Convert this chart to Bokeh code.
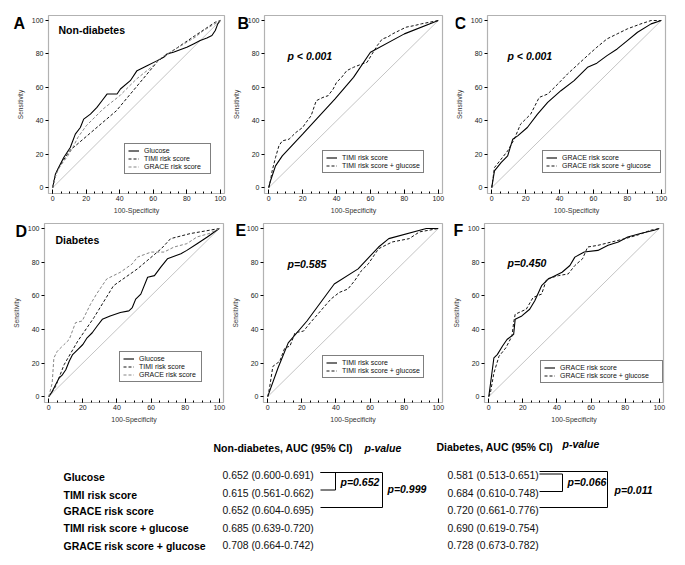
from bokeh.plotting import figure
from bokeh.models import Range1d, FixedTicker, Label, Legend, LegendItem, BoxAnnotation
from bokeh.layouts import column, row
from bokeh.embed import file_html
from bokeh.resources import INLINE
from bokeh.core.properties import value

FONT = "Liberation Sans"

# ---------------- data ----------------
major_ticks = [0, 20, 40, 60, 80, 100]
minor_ticks = [0, 5, 10, 15, 20, 25, 30, 35, 40, 45, 50, 55, 60, 65, 70, 75, 80, 85, 90, 95, 100]
chance_x = [0, 100]
chance_y = [0, 100]

# Panel A: Non-diabetes
A_glu_x = [0, 1.6, 4, 6.6, 10.5, 13.5, 16.5, 18.5, 22.5, 26.4, 29.4, 32.4, 38.4, 40.4, 46.3, 50.3, 56.3, 62.4, 66.2, 68.2, 72, 80, 84, 88, 92, 95, 97, 98.5, 100]
A_glu_y = [0, 8, 13, 18, 24, 32, 36, 41, 44, 48, 52, 56, 56, 59, 64, 70, 73, 76, 78, 80, 81, 84, 86, 88, 89.5, 91, 94, 98, 100]
A_timi_x = [0, 1, 3, 10, 38, 63, 85, 97, 100]
A_timi_y = [0, 5, 11, 22, 46, 76, 91, 99, 100]
A_grace_x = [0, 1, 2, 4, 6, 9, 12, 15, 20, 25, 30, 35, 40, 45, 50, 55, 60, 65, 70, 75, 80, 85, 90, 95, 100]
A_grace_y = [0, 4, 8, 12, 15, 19, 24, 30, 37, 42, 47, 51, 55, 60, 65, 69, 73, 78, 81, 84, 87, 90, 94, 97, 100]

# Panel B
B_timi_x = [0, 1, 4, 8, 20, 39, 50, 60, 80, 100]
B_timi_y = [0, 4, 13, 19, 32, 53, 66, 81, 92, 100]
B_tg_x = [0, 1, 2, 4, 6, 8, 12, 14, 16, 20, 22, 25, 28, 32, 35, 38, 40, 43, 46, 50, 55, 58, 61, 64, 67, 70, 73, 77, 81, 86, 90, 95, 100]
B_tg_y = [0, 4, 10, 18, 25, 28, 29, 31, 33, 36, 39, 43, 52, 54, 55, 59, 63, 66, 70, 72, 74, 75, 80, 85, 89, 90, 92, 94, 96, 97, 98, 99, 100]

# Panel C
C_g_x = [0, 1.6, 5.5, 9.4, 12.4, 15.3, 21, 27, 33, 40.8, 48.6, 56.5, 62, 68, 74, 80, 86, 94, 100]
C_g_y = [0, 10, 15, 19, 29, 31, 36, 44, 51, 58, 64, 72, 74.5, 79, 83, 88, 93, 98, 100]
C_gg_x = [0, 1.6, 5.5, 9.4, 13.3, 17, 23, 28, 33, 39, 44.7, 50.6, 56.5, 62, 68, 74, 80, 88, 94, 100]
C_gg_y = [0, 12, 17, 22, 29, 38, 44, 54, 56, 62, 68, 73.5, 79, 84, 89, 92, 95, 98, 100, 100]

# Panel D: Diabetes
D_glu_x = [0, 2, 4, 6, 8, 10, 12, 14, 17, 20, 22.5, 25.5, 28.4, 31.4, 36, 42, 47, 49, 51, 54, 58, 62, 65.7, 69.6, 77.5, 81, 87, 93, 100]
D_glu_y = [0, 3, 7, 11, 13, 16, 21, 25, 28, 31, 35, 38, 42, 46, 48, 50, 51, 53, 58, 61, 71, 72, 77, 82, 85, 87, 91, 95, 100]
D_timi_x = [0, 4, 9, 17, 26.5, 38, 52, 66, 71.5, 83, 100]
D_timi_y = [0, 6, 19, 33, 47, 66, 76, 88, 94, 97, 100]
D_grace_x = [0, 2, 3, 5, 9, 12, 15.7, 19.6, 24.5, 28, 34, 42, 49, 52, 60, 67.6, 73.5, 81, 87, 94, 100]
D_grace_y = [0, 8, 23, 27, 31, 34, 44, 45, 55, 61, 70, 74, 79, 83, 86, 86, 89, 91, 95, 97, 100]

# Panel E
E_timi_x = [0, 1, 6, 12, 23, 39, 53, 65, 71, 93, 100]
E_timi_y = [0, 3, 17, 32, 45, 67, 76, 89, 94, 100, 100]
E_tg_x = [0, 1, 3, 7, 10, 13, 16, 21, 25, 31, 37, 42, 47, 51, 55, 59, 65, 73, 83, 89, 100]
E_tg_y = [0, 5, 18, 21, 29, 30, 38, 39, 44, 51, 58, 62, 64, 69, 75, 79, 88, 92, 94, 98, 100]

# Panel F
F_g_x = [0, 1, 3, 5, 8, 10.7, 14.6, 15.5, 19.4, 24, 27, 31, 35, 43, 47.6, 50.5, 56, 64, 70, 76, 81.5, 89, 97, 100]
F_g_y = [0, 7.5, 23, 25, 30, 34, 37, 46, 48, 52, 57, 66, 70, 74, 78, 83, 86, 87, 90, 92, 95, 97, 99, 100]
F_gg_x = [0, 1, 3, 6, 10, 13.6, 14.6, 15.5, 22, 26, 31, 34, 41, 46.6, 50.5, 55, 58, 64, 72, 80, 87, 95, 100]
F_gg_y = [0, 2.5, 14, 24, 29, 36, 44, 49, 52, 59, 61, 70, 72, 73, 78, 82, 89, 90, 92, 94, 96, 99, 100]

# Table
row_labels = ["Glucose", "TIMI risk score", "GRACE risk score", "TIMI risk score + glucose", "GRACE  risk score + glucose"]
auc_nd = [0.652, 0.615, 0.652, 0.685, 0.708]
lo_nd = [0.600, 0.561, 0.604, 0.639, 0.664]
hi_nd = [0.691, 0.662, 0.695, 0.720, 0.742]
auc_d = [0.581, 0.684, 0.720, 0.690, 0.728]
lo_d = [0.513, 0.610, 0.661, 0.619, 0.673]
hi_d = [0.651, 0.748, 0.776, 0.754, 0.782]
p_nd_pair, p_nd_all = "0.652", "0.999"
p_d_pair, p_d_all = "0.066", "0.011"

# ---------------- styles / layout ----------------
BOX_X = (-2.5, 102.5)   # data extent of the drawn plot box
BOX_Y = (-3.5, 103.0)
STY = {
    "solid": dict(line_color="black", line_width=1.1),
    "dash": dict(line_color="#151515", line_width=1.0, line_dash="3 2"),
    "gray": dict(line_color="#858585", line_width=1.0, line_dash="3 2"),
}


def make_panel(fig_box, plot_box, letter, letter_pos, curves, legend_pos, legend_lw,
               note, note_pos, note_style):
    fx0, fy0, fx1, fy1 = fig_box
    bx0, by0, bx1, by1 = plot_box
    ppx = (bx1 - bx0) / (BOX_X[1] - BOX_X[0])
    ppy = (by1 - by0) / (BOX_Y[1] - BOX_Y[0])
    px2x = lambda px: BOX_X[0] + (px - bx0) / ppx
    py2y = lambda py: BOX_Y[1] - (py - by0) / ppy

    p = figure(width=fx1 - fx0, height=fy1 - fy0, output_backend="svg", toolbar_location=None,
               title=None, x_range=Range1d(px2x(fx0), px2x(fx1)),
               y_range=Range1d(py2y(fy1), py2y(fy0)), min_border=0)
    p.grid.visible = False
    p.outline_line_color = None
    p.background_fill_color = "white"
    p.border_fill_color = "white"

    xa = p.xaxis[0]
    ya = p.yaxis[0]
    xa.fixed_location = BOX_Y[0]
    ya.fixed_location = BOX_X[0]
    xa.bounds = BOX_X
    ya.bounds = BOX_Y
    xa.ticker = FixedTicker(ticks=major_ticks, minor_ticks=minor_ticks)
    ya.ticker = FixedTicker(ticks=major_ticks, minor_ticks=[])
    for a in (xa, ya):
        a.axis_line_color = None
        a.major_label_text_font = FONT
        a.major_label_text_font_size = "7px"
        a.major_label_text_color = "#222222"
        a.axis_label_text_font = FONT
        a.axis_label_text_font_style = "normal"
        a.axis_label_text_color = "#333333"
        a.major_tick_line_color = "black"
        a.minor_tick_line_color = "black"
        a.major_label_standoff = 2
    xa.major_tick_in = 4
    xa.major_tick_out = 0
    xa.minor_tick_in = 2
    xa.minor_tick_out = 0
    xa.axis_label = "100-Specificity"
    xa.axis_label_text_font_size = "7px"
    xa.axis_label_standoff = 3
    ya.major_tick_in = 0
    ya.major_tick_out = 3
    ya.minor_tick_in = 0
    ya.minor_tick_out = 0
    ya.axis_label = "Sensitivity"
    ya.axis_label_text_font_size = "6.5px"
    ya.axis_label_standoff = 5

    p.line(chance_x, chance_y, line_color="#bdbdbd", line_width=0.9)
    items = []
    for xs, ys, sty, lab in curves:
        r = p.line(xs, ys, **STY[sty])
        items.append(LegendItem(label=lab, renderers=[r]))
    leg = Legend(items=items, location=(legend_pos[0] - fx0, fy1 - legend_pos[1]),
                 label_text_font=FONT, label_text_font_size="7px", label_text_color="#111111",
                 glyph_width=11, glyph_height=7, label_height=7, label_width=legend_lw,
                 spacing=1, padding=3, margin=0, label_standoff=5,
                 border_line_color="black", border_line_width=1,
                 background_fill_color="white", background_fill_alpha=1.0)
    p.add_layout(leg)

    p.add_layout(BoxAnnotation(left=BOX_X[0], right=BOX_X[1], bottom=BOX_Y[0], top=BOX_Y[1],
                               fill_color=None, fill_alpha=0, line_color="black", line_width=1.2))

    p.add_layout(Label(x=px2x(letter_pos[0]), y=py2y(letter_pos[1]), text=letter,
                       text_font=FONT, text_font_size="16px", text_font_style="bold",
                       text_baseline="alphabetic", text_align="left", text_color="black"))
    p.add_layout(Label(x=px2x(note_pos[0]), y=py2y(note_pos[1]), text=note, text_font=FONT,
                       text_font_size="10.5px", text_font_style=note_style,
                       text_baseline="middle", text_align="left", text_color="black"))
    return p


pA = make_panel((0, 0, 232, 216), (48, 15, 224, 193), "A", (13, 23),
                [(A_glu_x, A_glu_y, "solid", "Glucose"),
                 (A_timi_x, A_timi_y, "dash", "TIMI risk score"),
                 (A_grace_x, A_grace_y, "gray", "GRACE risk score")],
                (124, 174), 63, "Non-diabetes", (58, 29), "bold")
pB = make_panel((232, 0, 455, 216), (264, 15, 442, 193), "B", (237, 23),
                [(B_timi_x, B_timi_y, "solid", "TIMI risk score"),
                 (B_tg_x, B_tg_y, "dash", "TIMI risk score + glucose")],
                (322, 173), 76, "p < 0.001", (287, 55), "bold italic")
pC = make_panel((455, 0, 677, 216), (487, 15, 665, 193), "C", (454, 23),
                [(C_g_x, C_g_y, "solid", "GRACE risk score"),
                 (C_gg_x, C_gg_y, "dash", "GRACE risk score + glucose")],
                (542, 173), 95, "p < 0.001", (507, 55), "bold italic")
pD = make_panel((0, 216, 231, 425), (44, 223, 223, 402), "D", (15, 231),
                [(D_glu_x, D_glu_y, "solid", "Glucose"),
                 (D_timi_x, D_timi_y, "dash", "TIMI risk score"),
                 (D_grace_x, D_grace_y, "gray", "GRACE risk score")],
                (119, 382), 59, "Diabetes", (55, 239), "bold")
pE = make_panel((231, 216, 452, 425), (263, 223, 442, 402), "E", (235, 230),
                [(E_timi_x, E_timi_y, "solid", "TIMI risk score"),
                 (E_tg_x, E_tg_y, "dash", "TIMI risk score + glucose")],
                (322, 378), 74, "p=0.585", (287, 263.5), "bold italic")
pF = make_panel((452, 216, 677, 425), (484, 223, 663, 402), "F", (453, 230),
                [(F_g_x, F_g_y, "solid", "GRACE risk score"),
                 (F_gg_x, F_gg_y, "dash", "GRACE risk score + glucose")],
                (540, 383), 99, "p=0.450", (507, 262.5), "bold italic")

# ---------------- table ----------------
t = figure(width=677, height=132, output_backend="svg", toolbar_location=None, title=None,
           x_range=Range1d(0, 677), y_range=Range1d(557, 425),
           x_axis_type=None, y_axis_type=None, min_border=0)
t.grid.visible = False
t.outline_line_color = None

row_y0, row_dy = 475.0, 17.5
rows_y = [row_y0 + i * row_dy for i in range(len(row_labels))]
lab_x, nd_x, d_x = 63, 222, 447

fmt = lambda a, l, h: f"{a:.3f} ({l:.3f}-{h:.3f})"
nd_text = [fmt(a, l, h) for a, l, h in zip(auc_nd, lo_nd, hi_nd)]
d_text = [fmt(a, l, h) for a, l, h in zip(auc_d, lo_d, hi_d)]

t.text(x=[lab_x] * len(row_labels), y=[y + 1.5 if i < 2 else y for i, y in enumerate(rows_y)],
       text=row_labels, text_font=value(FONT), text_font_size="10.5px",
       text_font_style="bold", text_baseline="middle", text_align="left", text_color="black")
t.text(x=[nd_x] * len(nd_text), y=rows_y, text=nd_text, text_font=value(FONT),
       text_font_size="10.4px", text_baseline="middle", text_align="left", text_color="#111111")
t.text(x=[d_x] * len(d_text), y=rows_y, text=d_text, text_font=value(FONT),
       text_font_size="10.4px", text_baseline="middle", text_align="left", text_color="#111111")

# headers
t.text(x=[213, 436], y=[447, 446], text=["Non-diabetes, AUC (95% CI)", "Diabetes, AUC (95% CI)"],
       text_font=value(FONT), text_font_size="10.5px", text_font_style="bold",
       text_baseline="middle", text_align="left", text_color="black")
t.text(x=[364, 562], y=[447, 443], text=["p-value", "p-value"],
       text_font=value(FONT), text_font_size="10.5px", text_font_style="bold italic",
       text_baseline="middle", text_align="left", text_color="black")

# brackets
yb = [y - 3 for y in rows_y]
nd_l, nd_m, nd_r = 320, 335, 382
d_l, d_m, d_r = 539, 562, 607
xs_b = [[nd_l, nd_m, nd_m, nd_l], [nd_l, nd_r, nd_r, nd_l],
        [d_l, d_m, d_m, d_l], [d_l, d_r, d_r, d_l]]
ys_b = [[yb[0], yb[0], yb[1], yb[1]], [yb[0], yb[0], yb[2], yb[2]],
        [yb[0] + 1.5, yb[0] + 1.5, yb[1] + 1.5, yb[1] + 1.5], [yb[0] - 1, yb[0] - 1, yb[2], yb[2]]]
t.multi_line(xs_b, ys_b, line_color="black", line_width=1)

t.text(x=[nd_m + 5, nd_r + 5, d_m + 5, d_r + 7],
       y=[(yb[0] + yb[1]) / 2 + 1, rows_y[0] + 13, (yb[0] + yb[1]) / 2 + 1, rows_y[0] + 14],
       text=["p=" + p_nd_pair, "p=" + p_nd_all, "p=" + p_d_pair, "p=" + p_d_all],
       text_font=value(FONT), text_font_size="10.5px", text_font_style="bold italic",
       text_baseline="middle", text_align="left", text_color="black")

layout = column(row(pA, pB, pC), row(pD, pE, pF), t)
open("out.html", "w").write(file_html(layout, INLINE))
